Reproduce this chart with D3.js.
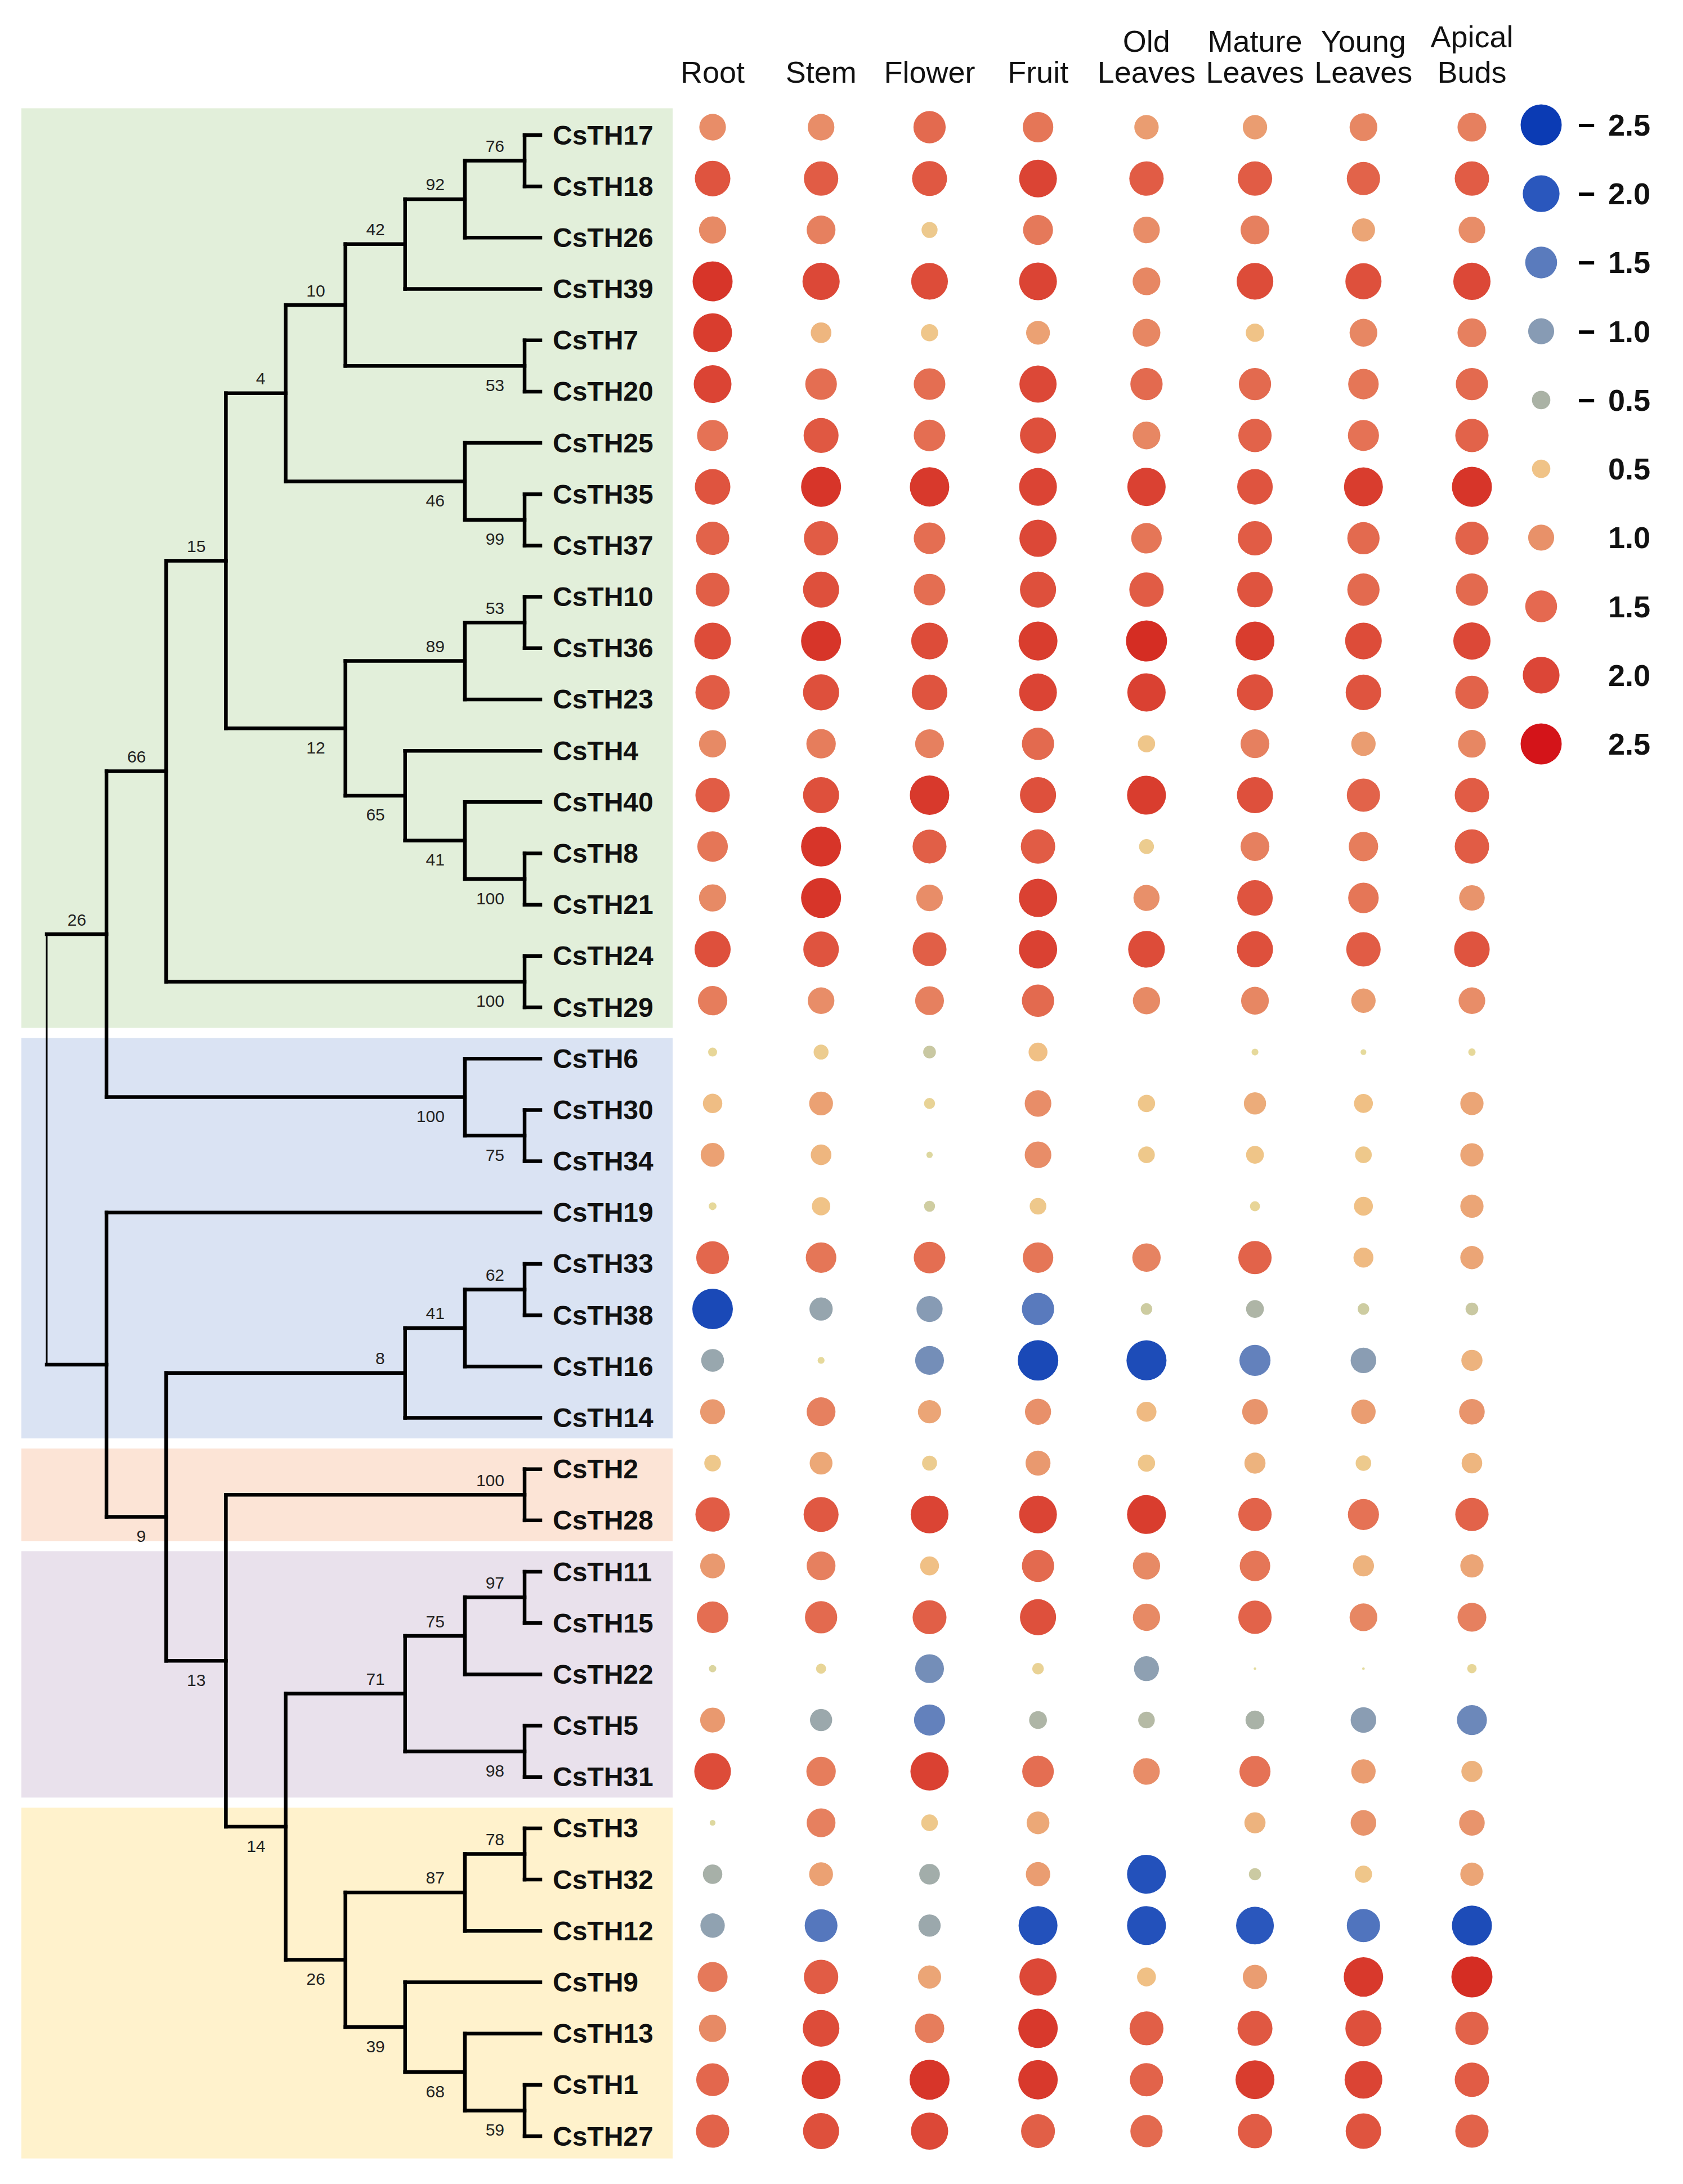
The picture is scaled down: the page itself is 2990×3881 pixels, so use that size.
<!DOCTYPE html>
<html lang="en">
<head>
<meta charset="UTF-8">
<title>CsTH expression</title>
<script src="https://cdn.jsdelivr.net/npm/d3@7/dist/d3.min.js"></script>
<style>
  body { margin: 0; background: #fff; }
  text { font-family: "Liberation Sans", Arial, sans-serif; }
</style>
</head>
<body>
<div id="chart"></div>
<script>
// tree (newick with bootstrap values)
var newick = "(((((((((CsTH17,CsTH18)76,CsTH26)92,CsTH39)42,(CsTH7,CsTH20)53)10,(CsTH25,(CsTH35,CsTH37)99)46)4," +
  "(((CsTH10,CsTH36)53,CsTH23)89,(CsTH4,(CsTH40,(CsTH8,CsTH21)100)41)65)12)15,(CsTH24,CsTH29)100)66," +
  "(CsTH6,(CsTH30,CsTH34)75)100)26," +
  "(CsTH19,((((CsTH33,CsTH38)62,CsTH16)41,CsTH14)8,((CsTH2,CsTH28)100,((((CsTH11,CsTH15)97,CsTH22)75,(CsTH5,CsTH31)98)71," +
  "(((CsTH3,CsTH32)78,CsTH12)87,(CsTH9,(CsTH13,(CsTH1,CsTH27)59)68)39)26)14)13)9));";

var genes = ["CsTH17","CsTH18","CsTH26","CsTH39","CsTH7","CsTH20","CsTH25","CsTH35","CsTH37","CsTH10",
  "CsTH36","CsTH23","CsTH4","CsTH40","CsTH8","CsTH21","CsTH24","CsTH29","CsTH6","CsTH30",
  "CsTH34","CsTH19","CsTH33","CsTH38","CsTH16","CsTH14","CsTH2","CsTH28","CsTH11","CsTH15",
  "CsTH22","CsTH5","CsTH31","CsTH3","CsTH32","CsTH12","CsTH9","CsTH13","CsTH1","CsTH27"];

var tissues = ["Root","Stem","Flower","Fruit","Old\nLeaves","Mature\nLeaves","Young\nLeaves","Apical\nBuds"];

var root_ = [1.05,1.87,1.10,2.37,2.24,2.11,1.43,1.87,1.64,1.70,1.99,1.75,1.10,1.75,1.38,1.10,1.93,1.28,0.12,0.56,
  0.84,0.09,1.59,-2.43,-0.77,0.92,0.41,1.75,0.92,1.48,-0.08,0.92,1.99,-0.05,-0.56,-0.88,1.33,1.10,1.59,1.64];
var stem = [1.05,1.75,1.23,2.05,0.63,1.48,1.81,2.37,1.75,1.93,2.37,1.93,1.28,1.93,2.37,2.37,1.87,1.05,0.33,0.84,
  0.63,0.50,1.38,-0.80,0.07,1.23,0.77,1.81,1.23,1.54,0.15,-0.73,1.28,1.23,0.84,-1.59,1.75,1.99,2.24,1.93];
var flower = [1.54,1.81,0.38,1.99,0.44,1.48,1.48,2.30,1.48,1.48,1.99,1.87,1.23,2.30,1.70,1.05,1.70,1.23,-0.24,0.18,
  -0.06,-0.18,1.48,-1.01,-1.23,0.80,0.33,2.11,0.53,1.70,-1.23,-1.43,2.17,0.41,-0.63,-0.73,0.80,1.28,2.37,2.05];
var fruit = [1.38,2.11,1.33,2.11,0.84,2.05,1.93,2.11,2.05,1.93,2.24,2.11,1.54,1.93,1.75,2.17,2.17,1.54,0.53,1.05,
  1.05,0.41,1.38,-1.54,-2.43,1.01,0.92,2.11,1.54,1.93,0.20,-0.47,1.48,0.77,0.88,-2.24,2.05,2.30,2.30,1.70];
var oldLeaves = [0.88,1.75,1.05,1.14,1.14,1.54,1.14,2.17,1.38,1.75,2.50,2.17,0.44,2.24,0.33,1.01,1.99,1.10,0.00,0.44,
  0.41,0.00,1.19,-0.20,-2.37,0.59,0.44,2.24,1.10,1.10,-0.92,-0.41,1.05,0.00,-2.24,-2.24,0.53,1.70,1.64,1.54];
var matureLeaves = [0.88,1.75,1.23,1.99,0.50,1.54,1.64,1.87,1.75,1.87,2.24,1.93,1.23,1.93,1.23,1.87,1.93,1.14,0.07,0.73,
  0.47,0.15,1.64,-0.47,-1.43,0.97,0.66,1.64,1.38,1.64,0.01,-0.53,1.43,0.66,-0.22,-2.11,0.88,1.81,2.24,1.75];
var youngLeaves = [1.14,1.64,0.80,1.93,1.14,1.38,1.43,2.24,1.54,1.54,1.99,1.87,0.88,1.64,1.28,1.38,1.75,0.88,0.05,0.53,
  0.41,0.53,0.59,-0.20,-0.97,0.88,0.36,1.43,0.66,1.14,0.01,-0.97,0.88,0.97,0.44,-1.64,2.30,1.93,2.11,1.87];
var apicalBuds = [1.23,1.75,1.05,2.05,1.23,1.54,1.64,2.37,1.64,1.54,2.05,1.64,1.14,1.75,1.75,0.97,1.87,1.05,0.08,0.80,
  0.80,0.80,0.80,-0.24,0.66,0.97,0.63,1.64,0.80,1.23,0.13,-1.33,0.66,0.97,0.80,-2.37,2.50,1.64,1.75,1.64];

var series = [root_, stem, flower, fruit, oldLeaves, matureLeaves, youngLeaves, apicalBuds];

// clades: first gene, last gene, fill
var cladeFirst = ["CsTH17","CsTH6","CsTH2","CsTH11","CsTH3"];
var cladeLast = ["CsTH29","CsTH14","CsTH28","CsTH31","CsTH27"];
var cladeFill = ["#e2efda","#dae3f3","#fce4d6","#e9e1ec","#fff2cc"];

var legendValues = [-2.5,-2.0,-1.5,-1.0,-0.5,0.5,1.0,1.5,2.0,2.5];

var colorStops = [-2.5,-2,-1.5,-1,-0.5,0,0.5,1,1.5,2,2.5];
var colorRange = ["#1746b6","#2f5cbf","#5d7dbd","#889cb4","#abb3a6","#e4dc9e","#f0c387","#e8916a","#e46d51","#dd4b39","#d52d23"];

var W = 2990, H = 3881;
var svg = d3.select("#chart").append("svg")
    .attr("width", W).attr("height", H)
    .attr("viewBox", "0 0 " + W + " " + H);
svg.append("rect").attr("width", W).attr("height", H).attr("fill", "#fff");

function parseNewick(s) {
    var i = 0;
    function node() {
        var n = {};
        if (s[i] === "(") {
            i++;
            n.children = [node()];
            while (s[i] === ",") { i++; n.children.push(node()); }
            i++;
        }
        var label = "";
        while (i < s.length && ",();".indexOf(s[i]) < 0) label += s[i++];
        if (n.children) n.support = label; else n.name = label;
        return n;
    }
    return node();
}

var root = d3.hierarchy(parseNewick(newick));
var H_ = root.height;
d3.cluster().separation(function() { return 1; }).size([genes.length, H_])(root);

var treeY = d3.scaleLinear().domain([0.5, genes.length - 0.5]).range([240, 3796]);
var levelX = d3.scaleLinear().domain([0, H_ - 1]).range([83, 932]);
var tipX = 960;
function nx(d) { return d.children ? levelX(d.y) : tipX; }
function ny(d) { return treeY(d.x); }

var rowStep = treeY(1.5) - treeY(0.5);
var leafY = {};
root.leaves().forEach(function(d) { leafY[d.data.name] = ny(d); });

// clade background boxes
var gap = 9;
svg.append("g").selectAll("rect")
    .data(cladeFirst)
    .join("rect")
    .attr("x", 38)
    .attr("width", 1195 - 38)
    .attr("y", function(d, i) { return leafY[d] - rowStep / 2 + (i > 0 ? gap : -2); })
    .attr("height", function(d, i) {
        var top = leafY[d] - rowStep / 2 + (i > 0 ? gap : -2);
        var bot = leafY[cladeLast[i]] + rowStep / 2 - (i < cladeFirst.length - 1 ? gap : 6);
        return bot - top;
    })
    .attr("fill", function(d, i) { return cladeFill[i]; });

// tree branches
var tree = svg.append("g").attr("stroke", "#000").attr("fill", "none").attr("stroke-linecap", "square");

tree.selectAll("path.v")
    .data(root.descendants().filter(function(d) { return d.children; }))
    .join("path")
    .attr("class", "v")
    .attr("stroke-width", function(d) { return d.depth === 0 ? 3 : 6.5; })
    .attr("d", function(d) {
        var c = d.children;
        return "M" + nx(d) + "," + ny(c[0]) + "V" + ny(c[c.length - 1]);
    });

tree.selectAll("path.h")
    .data(root.descendants().slice(1))
    .join("path")
    .attr("class", "h")
    .attr("stroke-width", 6.5)
    .attr("d", function(d) {
        return "M" + nx(d.parent) + "," + ny(d) + "H" + nx(d);
    });

// bootstrap values
svg.append("g").selectAll("text")
    .data(root.descendants().filter(function(d) { return d.children && d.parent && d.data.support; }))
    .join("text")
    .attr("x", function(d) { return nx(d) - 36; })
    .attr("y", function(d) {
        var upper = d.parent.children[0] === d;
        return ny(d) + (upper ? -26 : 34);
    })
    .attr("dominant-baseline", "central")
    .attr("text-anchor", "end")
    .attr("font-size", 30)
    .attr("fill", "#222")
    .text(function(d) { return d.data.support; });

// leaf labels
svg.append("g").selectAll("text")
    .data(root.leaves())
    .join("text")
    .attr("x", 982)
    .attr("y", function(d) { return ny(d); })
    .attr("dominant-baseline", "central")
    .attr("font-size", 48)
    .attr("font-weight", "bold")
    .attr("fill", "#111")
    .text(function(d) { return d.data.name; });

// dot plot
var colX = d3.scalePoint().domain(d3.range(tissues.length)).range([1266, 2615]);
var dotY = d3.scalePoint().domain(genes).range([226, 3787]);
var rScale = d3.scaleSqrt().domain([0, 2.5]).range([0, 36.5]).clamp(true);
var color = d3.scaleLinear().domain(colorStops).range(colorRange).interpolate(d3.interpolateRgb).clamp(true);

var cells = [];
series.forEach(function(vals, j) {
    vals.forEach(function(v, i) { cells.push({gene: genes[i], col: j, v: v}); });
});

svg.append("g").selectAll("circle")
    .data(cells)
    .join("circle")
    .attr("cx", function(d) { return colX(d.col); })
    .attr("cy", function(d) { return dotY(d.gene); })
    .attr("r", function(d) { return rScale(Math.abs(d.v)); })
    .attr("fill", function(d) { return color(d.v); });

// column headers
var head = svg.append("g").attr("font-size", 54).attr("fill", "#111").attr("text-anchor", "middle");
tissues.forEach(function(t, j) {
    var lines = t.split("\n");
    var x = colX(j);
    var tx = head.append("text").attr("x", x);
    lines.forEach(function(line, k) {
        tx.append("tspan")
            .attr("x", x)
            .attr("y", 147 - (lines.length - 1 - k) * 55 - (j === 7 && k === 0 ? 8 : 0))
            .text(line);
    });
});

// legend
var legY = d3.scalePoint().domain(d3.range(legendValues.length)).range([222, 1322]);
var legColor = d3.scaleLinear().domain([-2.5,-2,-1.5,-1,-0.5,0.5,1,1.5,2,2.5])
    .range(["#0b3bb4","#2a57bd","#5a7bbd","#879bb4","#aab2a5","#f0c387","#e89169","#e56950","#dc4637","#d41419"]);
var leg = svg.append("g").selectAll("g")
    .data(legendValues)
    .join("g")
    .attr("transform", function(d, i) { return "translate(0," + legY(i) + ")"; });

leg.append("circle")
    .attr("cx", 2738)
    .attr("r", function(d) { return rScale(Math.abs(d)); })
    .attr("fill", function(d) { return legColor(d); });

leg.filter(function(d) { return d < 0; }).append("text")
    .attr("x", 2803)
    .attr("dominant-baseline", "central")
    .attr("font-size", 54)
    .attr("font-weight", "bold")
    .text("\u2212");

leg.append("text")
    .attr("x", 2857)
    .attr("dominant-baseline", "central")
    .attr("font-size", 54)
    .attr("font-weight", "bold")
    .attr("fill", "#111")
    .text(function(d) { return Math.abs(d).toFixed(1); });
</script>
</body>
</html>
